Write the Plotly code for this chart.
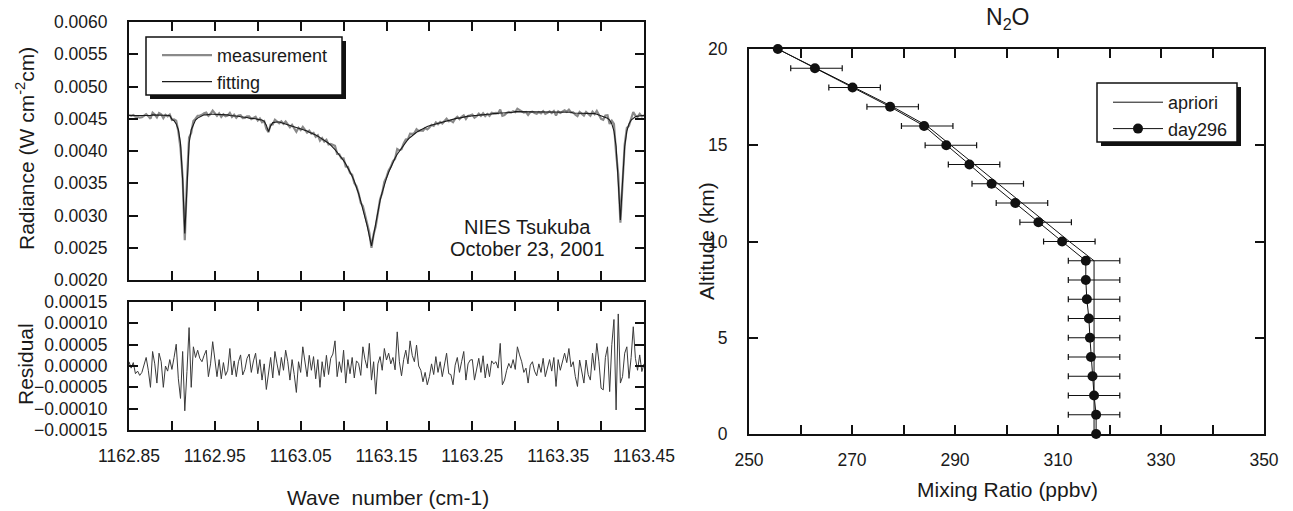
import numpy as np
import plotly.graph_objects as go

W, H = 1293, 511

# ---------------- spectrum (left panels) ----------------
wn_start = 1162.85          # cm-1, first sample
wn_step = 0.0025            # cm-1, sampling step

# fitted radiance, units of 1e-5 W cm-2 cm
fit_e5 = [
    455, 455, 455, 455, 454, 454, 454, 454, 455, 455,
    455, 456, 456, 456, 456, 456, 456, 456, 455, 455,
    449, 447, 442, 433, 412, 355, 272, 355, 412, 433,
    442, 448, 451, 453, 455, 456, 456, 457, 457, 457,
    457, 457, 457, 456, 456, 456, 456, 455, 455, 455,
    454, 454, 453, 453, 452, 452, 451, 451, 450, 450,
    449, 449, 448, 446, 440, 430, 439, 444, 445, 445,
    445, 444, 443, 442, 441, 440, 439, 437, 436, 435,
    434, 433, 432, 431, 429, 428, 426, 425, 423, 421,
    419, 417, 415, 412, 409, 406, 402, 398, 394, 390,
    385, 380, 374, 368, 361, 353, 344, 334, 322, 310,
    298, 284, 268, 253, 270, 290, 308, 323, 336, 348,
    358, 367, 375, 382, 389, 395, 400, 405, 410, 414,
    418, 421, 424, 427, 429, 431, 433, 435, 437, 438,
    439, 440, 441, 442, 443, 444, 445, 446, 447, 448,
    449, 449, 450, 451, 451, 452, 452, 453, 454, 454,
    455, 455, 455, 456, 456, 456, 457, 457, 457, 458,
    458, 458, 459, 459, 459, 459, 460, 460, 460, 460,
    461, 461, 461, 461, 461, 461, 460, 460, 460, 460,
    460, 460, 460, 460, 460, 460, 460, 460, 460, 460,
    460, 460, 460, 460, 460, 460, 460, 459, 459, 459,
    459, 459, 459, 459, 459, 458, 458, 458, 457, 456,
    455, 454, 453, 451, 448, 442, 431, 407, 352, 293,
    352, 407, 431, 442, 448, 451, 453, 454, 455, 455,
    455,
]

# residual (measurement - fitting), units of 1e-6
resid_e6 = [
    10, -5, 8, -18, -12, -22, -15, 5, 20, -10,
    -50, 34, 5, -40, 30, 10, -50, 0, -12, 15,
    -8, 20, 51, -30, -76, 34, -105, -13, 90, -50,
    45, 20, 37, 18, 10, 25, 37, -25, 5, 57,
    10, -25, 15, -30, 8, -22, -10, 41, -21, 12,
    -25, 10, 26, -21, -8, 18, 28, -15, 12, 30,
    -18, 15, -33, 5, -55, -10, 20, -28, 34, 5,
    -22, 20, -10, 37, 10, -33, 15, -20, -62, 10,
    -15, 45, 5, -25, 25, -10, 22, -30, 15, -50,
    10, -25, 25, -20, 18, 28, 59, -25, 10, -15,
    37, -40, 15, -18, 20, -28, 12, 6, -22, 45,
    15, -5, 53, -33, 10, -66, 5, 22, -10, 41,
    14, 30, 5, 20, -9, 80, 10, -23, 15, 37,
    5, 59, 25, 10, 49, 0, -10, -37, -15, -44,
    -25, 5, -20, 22, -15, 10, -25, 8, 30, -18,
    -20, -44, 2, 20, -15, 10, 34, -33, 5, 14,
    15, -33, -10, 18, -15, 24, -28, 5, -25, 12,
    5, 10, -5, 53, -44, -33, -10, 6, -5, 15,
    -8, 45, 26, 10, -15, -5, -40, 2, 10, -12,
    -23, 5, -15, 18, -25, -8, 15, -12, 20, -48,
    15, -10, 14, 30, 8, 41, -2, 10, -25, -48,
    14, -10, -40, 14, -20, -33, 30, -10, 53, 10,
    -52, -56, 20, 45, -60, 50, 109, -103, 122, -40,
    -25, 30, 45, -29, 20, 92, 18, -10, 26, -13,
    5,
]

wn_tick_vals = [1162.85, 1162.95, 1163.05, 1163.15, 1163.25, 1163.35, 1163.45]
wn_minor_step = 0.05
rad_tick_vals = [0.0020, 0.0025, 0.0030, 0.0035, 0.0040, 0.0045, 0.0050, 0.0055, 0.0060]
res_tick_vals = [-0.00015, -0.00010, -0.00005, 0.0, 0.00005, 0.00010, 0.00015]

# ---------------- N2O profile (right panel) ----------------
alt_km = [0, 1, 2, 3, 4, 5, 6, 7, 8, 9, 10, 11, 12, 13, 14, 15, 16, 17, 18, 19, 20]
apriori_ppbv = [317.0, 317.0, 317.0, 317.0, 317.0, 317.0, 317.0, 317.0, 317.0, 317.0,
                312.2, 307.6, 303.0, 298.3, 293.7, 289.2, 284.6, 277.9, 270.5, 263.1, 255.6]
day296_ppbv = [317.4, 317.4, 317.0, 316.7, 316.4, 316.2, 316.0, 315.6, 315.4, 315.4,
               310.8, 306.2, 301.7, 297.1, 292.8, 288.3, 284.0, 277.4, 270.1, 262.8, 255.6]
day296_err = [0.0, 5.0, 5.0, 5.0, 5.0, 5.0, 5.0, 5.0, 5.0, 5.0,
              5.0, 5.0, 5.0, 5.0, 5.0, 5.0, 5.0, 5.0, 5.0, 5.0, 0.0]
mix_tick_vals = [250, 270, 290, 310, 330, 350]
mix_minor_step = 10
alt_tick_vals = [0, 5, 10, 15, 20]

# ---------------- derived series ----------------
wn = wn_start + wn_step * np.arange(len(fit_e5))
fitting = np.array(fit_e5) * 1e-5
residual = np.array(resid_e6) * 1e-6
measurement = fitting + residual


def px(x):
    return x / W


def py(y):
    return 1 - y / H


FONT = "Liberation Sans, Arial, Helvetica, sans-serif"
TXT = "#1a1a1a"
TICKF = dict(family=FONT, size=17.5, color=TXT)

fig = go.Figure()

fig.add_trace(go.Scatter(x=wn, y=measurement, mode="lines", name="measurement",
                         line=dict(color="#8a8a8a", width=2.2),
                         xaxis="x", yaxis="y", legend="legend"))
fig.add_trace(go.Scatter(x=wn, y=fitting, mode="lines", name="fitting",
                         line=dict(color="#1a1a1a", width=1.1),
                         xaxis="x", yaxis="y", legend="legend"))
fig.add_trace(go.Scatter(x=wn, y=residual, mode="lines", name="residual",
                         line=dict(color="#3a3a3a", width=1),
                         xaxis="x2", yaxis="y2", showlegend=False))

fig.add_trace(go.Scatter(x=apriori_ppbv, y=alt_km, mode="lines", name="apriori",
                         line=dict(color="#111111", width=1),
                         xaxis="x3", yaxis="y3", legend="legend2"))
fig.add_trace(go.Scatter(x=apriori_ppbv, y=alt_km, mode="markers", name="error",
                         marker=dict(size=1, color="rgba(0,0,0,0)"),
                         error_x=dict(type="data", array=day296_err, symmetric=True,
                                      color="#111111", thickness=1.2, width=3),
                         xaxis="x3", yaxis="y3", showlegend=False, cliponaxis=False))
fig.add_trace(go.Scatter(x=day296_ppbv, y=alt_km, mode="lines+markers", name="day296",
                         line=dict(color="#111111", width=1),
                         marker=dict(size=10, color="#111111"),
                         xaxis="x3", yaxis="y3", legend="legend2", cliponaxis=False))

axis_common = dict(showline=True, linecolor="#111111", linewidth=2, mirror="ticks",
                   ticks="inside", ticklen=9, tickwidth=2, tickcolor="#111111",
                   showgrid=False, zeroline=False, tickfont=TICKF,
                   automargin=False)
xstand = dict(ticklabelstandoff=9)
ystand = dict(ticklabelstandoff=16)

fig.update_layout(
    width=W, height=H,
    margin=dict(l=0, r=0, t=0, b=0),
    paper_bgcolor="white", plot_bgcolor="white",
    font=dict(family=FONT, color=TXT),
    xaxis=dict(domain=[px(129), px(644)], range=[1162.85, 1163.45], anchor="y",
               tickmode="array", tickvals=wn_tick_vals, showticklabels=False,
               minor=dict(tick0=wn_start, dtick=wn_minor_step, ticks="inside",
                          ticklen=9, tickwidth=2, tickcolor="#111111", showgrid=False),
               **axis_common, **xstand),
    yaxis=dict(domain=[py(280), py(22)], range=[0.0020, 0.0060], anchor="x",
               tickmode="array", tickvals=rad_tick_vals, tickformat=".4f",
               **axis_common, **ystand),
    xaxis2=dict(domain=[px(129), px(644)], range=[1162.85, 1163.45], anchor="y2",
                tickmode="array", tickvals=wn_tick_vals, tickformat=".2f",
                minor=dict(tick0=wn_start, dtick=wn_minor_step, ticks="inside",
                           ticklen=9, tickwidth=2, tickcolor="#111111", showgrid=False),
                **axis_common, **xstand),
    yaxis2=dict(domain=[py(430), py(302)], range=[-0.00015, 0.00015], anchor="x2",
                tickmode="array", tickvals=res_tick_vals, tickformat=".5f",
                **axis_common, **ystand),
    xaxis3=dict(domain=[px(749), px(1264)], range=[250, 350], anchor="y3",
                tickmode="array", tickvals=mix_tick_vals,
                minor=dict(tick0=250, dtick=mix_minor_step, ticks="inside",
                           ticklen=9, tickwidth=2, tickcolor="#111111", showgrid=False),
                **axis_common, **xstand),
    yaxis3=dict(domain=[py(434), py(49)], range=[0, 20], anchor="x3",
                tickmode="array", tickvals=alt_tick_vals,
                **axis_common, **ystand),
    legend=dict(x=px(157), y=py(37), xanchor="left", yanchor="top",
                bgcolor="rgba(0,0,0,0)", borderwidth=0,
                font=dict(family=FONT, size=18, color=TXT),
                itemwidth=50, tracegroupgap=0),
    legend2=dict(x=px(1108), y=py(84), xanchor="left", yanchor="top",
                 bgcolor="rgba(0,0,0,0)", borderwidth=0,
                 font=dict(family=FONT, size=18, color=TXT),
                 itemwidth=50, tracegroupgap=0),
    showlegend=True,
)

# legend frames with drop shadow
shapes = []
for (x0, y0, x1, y1) in [(146, 37, 342, 95), (1097, 83, 1237, 142)]:
    shapes.append(dict(type="rect", xref="paper", yref="paper",
                       x0=px(x0 + 4), x1=px(x1 + 4), y0=py(y1 + 4), y1=py(y0 + 4),
                       fillcolor="#111111", line=dict(width=0), layer="above"))
    shapes.append(dict(type="rect", xref="paper", yref="paper",
                       x0=px(x0), x1=px(x1), y0=py(y1), y1=py(y0),
                       fillcolor="white", line=dict(color="#111111", width=1.5),
                       layer="above"))
fig.update_layout(shapes=shapes)

ann = [
    dict(text="Radiance (W cm<sup>-2</sup>cm)", x=px(25), y=py(149), textangle=-90,
         font=dict(size=21)),
    dict(text="Residual", x=px(25), y=py(364), textangle=-90, font=dict(size=21)),
    dict(text="Wave\u00a0 number (cm-1)", x=px(388), y=py(497), font=dict(size=21)),
    dict(text="NIES Tsukuba", x=px(527), y=py(227), font=dict(size=20)),
    dict(text="October 23, 2001", x=px(527), y=py(249), font=dict(size=20)),
    dict(text="Altitude (km)", x=px(707), y=py(241), textangle=-90, font=dict(size=21)),
    dict(text="Mixing Ratio (ppbv)", x=px(1007), y=py(489), font=dict(size=21)),
    dict(text="N<sub>2</sub>O", x=px(1007), y=py(18), font=dict(size=23)),
]
for a in ann:
    a.update(xref="paper", yref="paper", showarrow=False,
             xanchor="center", yanchor="middle")
    a["font"].update(family=FONT, color=TXT)
fig.update_layout(annotations=ann)

fig.write_html("out.html")
